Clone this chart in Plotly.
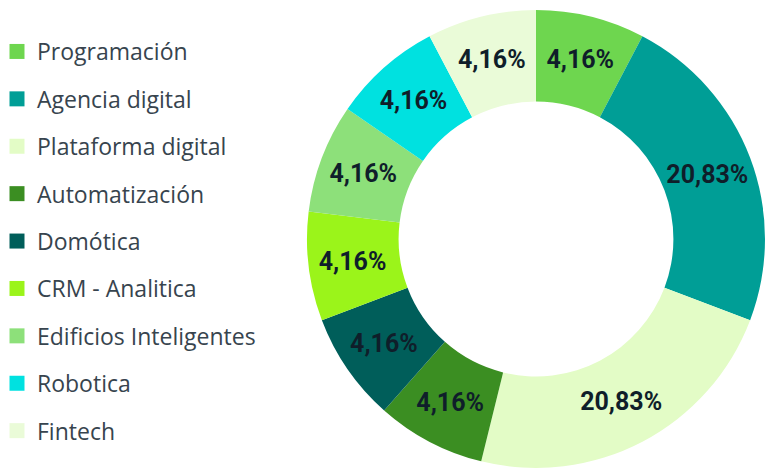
import plotly.graph_objects as go

labels = ["Programación", "Agencia digital", "Plataforma digital", "Automatización",
          "Domótica", "CRM - Analitica", "Edificios Inteligentes", "Robotica", "Fintech"]
values = [1, 3, 3, 1, 1, 1, 1, 1, 1]
shown_pct = ["4,16%", "20,83%", "20,83%", "4,16%", "4,16%", "4,16%", "4,16%", "4,16%", "4,16%"]
colors = ["#6ED64F", "#009E96", "#E3FCC6", "#3B8E22", "#005E5A",
          "#9BF41A", "#8DE07A", "#00E1E0", "#EAFBD8"]

fig = go.Figure()
fig.add_trace(go.Pie(
    labels=labels, values=values, text=shown_pct, textinfo="text",
    hole=0.6, sort=False, direction="clockwise", rotation=0,
    marker=dict(colors=colors, line=dict(width=0)),
    textfont=dict(family="Roboto", size=25, color="#0F1E2A", weight="bold"),
    insidetextorientation="horizontal", textposition="inside",
    showlegend=False, hoverinfo="label+text",
    domain=dict(x=[0.4013, 1.0], y=[0.0064, 0.9788]),
))
for lab, col in zip(labels, colors):
    fig.add_trace(go.Scatter(
        x=[None], y=[None], mode="markers", name=lab, legendgroup=lab,
        marker=dict(symbol="square", size=15, color=col, line=dict(width=0)),
        showlegend=True,
    ))

fig.update_layout(
    width=765, height=471,
    margin=dict(l=0, r=0, t=0, b=0),
    paper_bgcolor="white", plot_bgcolor="white",
    xaxis=dict(visible=False), yaxis=dict(visible=False),
    uniformtext=dict(minsize=25, mode="show"),
    legend=dict(
        x=0, y=1 - 30 / 471, xanchor="left", yanchor="top",
        font=dict(family="Open Sans", size=23, color="#37444E"),
        tracegroupgap=14.5, itemwidth=30, indentation=-3,
        bgcolor="rgba(0,0,0,0)",
    ),
)
fig.write_html("out.html", config={"displayModeBar": False},
               post_script="document.body.style.margin='0px';")
